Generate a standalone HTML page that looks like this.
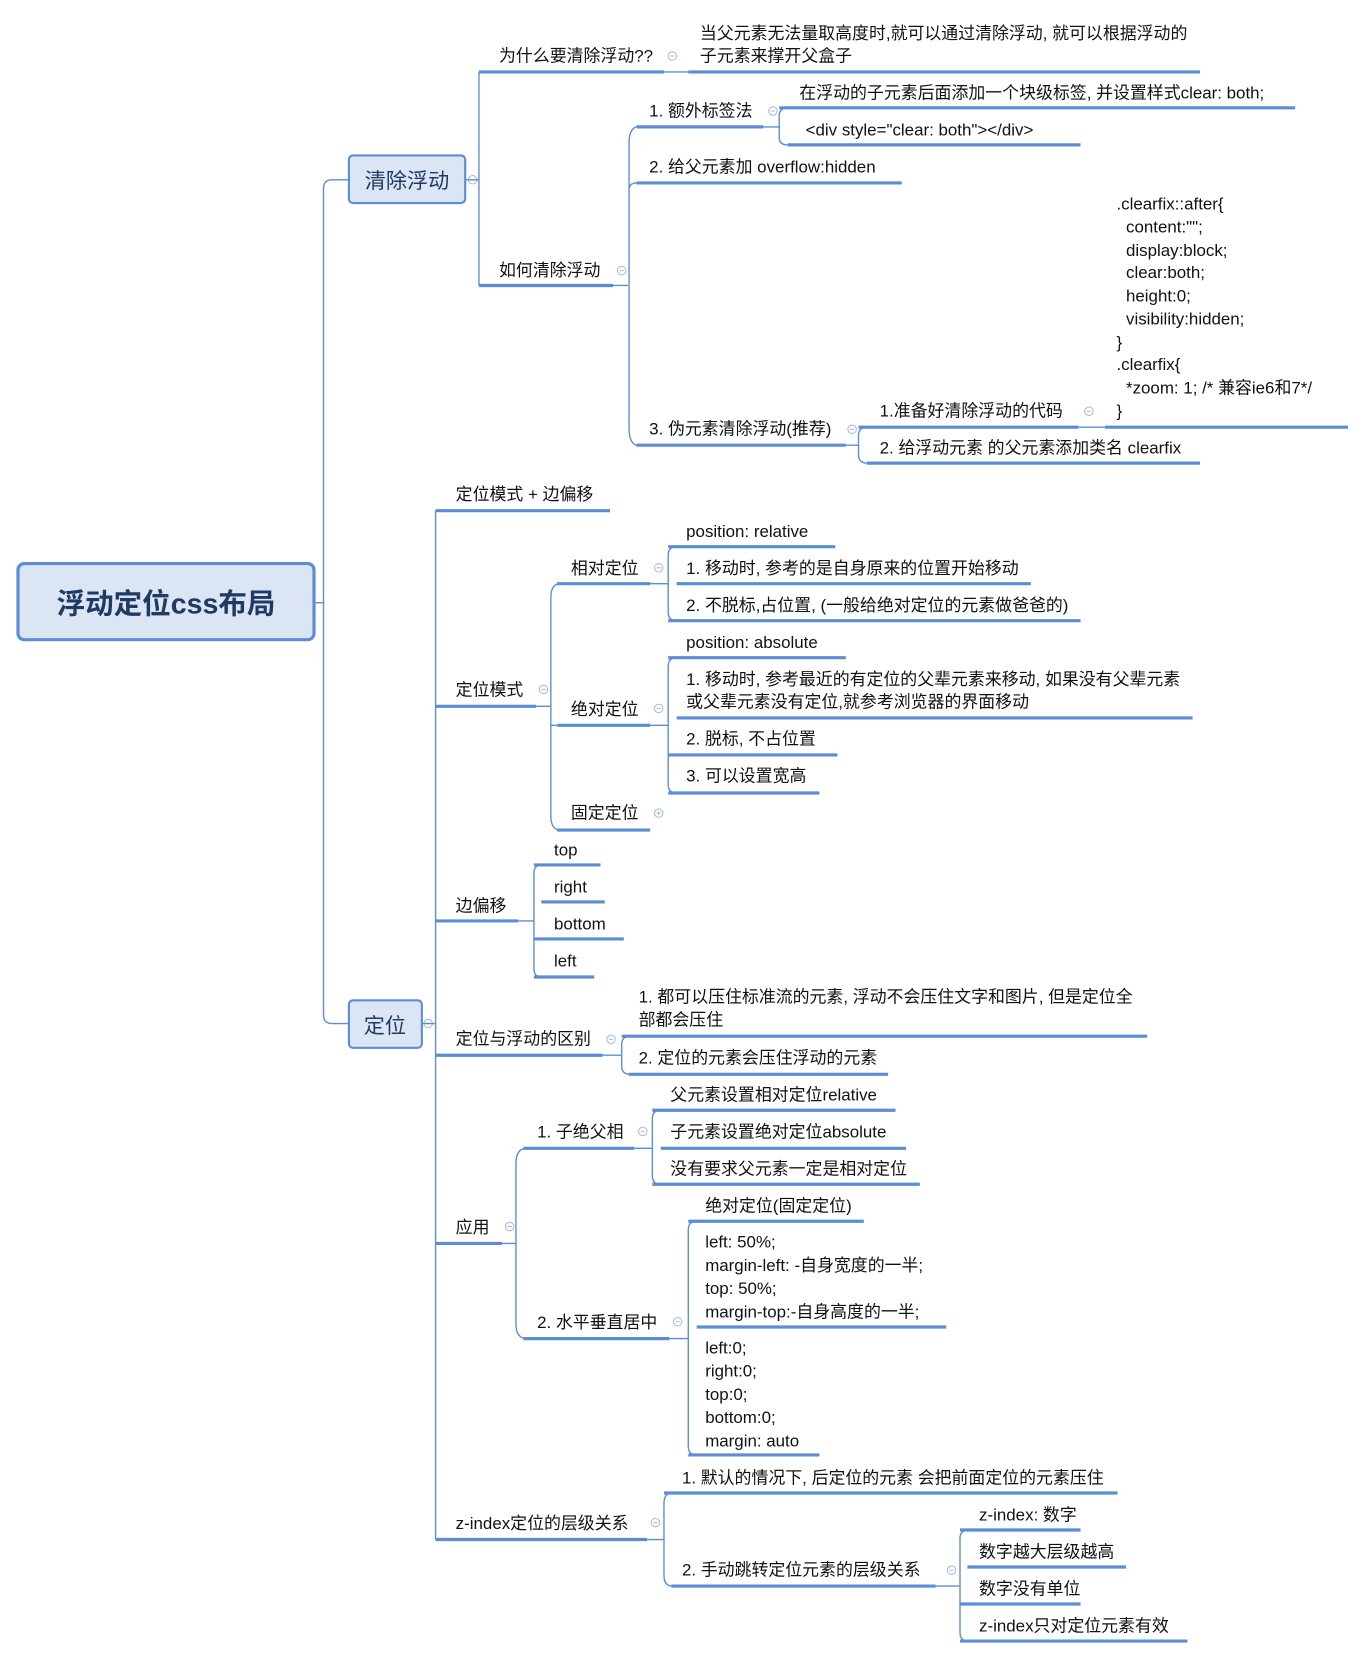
<!DOCTYPE html>
<html><head><meta charset="utf-8"><style>
html,body{margin:0;padding:0;background:#fff;width:1366px;height:1659px;overflow:hidden}
svg{display:block}
text{font-family:"Liberation Sans","Noto Sans CJK SC",sans-serif;font-size:16px;fill:#111}
.u{stroke:#5b8dd6;stroke-width:3;fill:none}
.c{stroke:#5b8dd6;stroke-width:1.3;fill:none}
.k{stroke:#a9b9e0;stroke-width:1;fill:#fff}
.km{stroke:#a9b9e0;stroke-width:1}
</style></head><body>
<svg width="1366" height="1659" viewBox="0 0 1292 1569" preserveAspectRatio="none" xmlns="http://www.w3.org/2000/svg">
<!-- root -->
<rect x="17" y="533" width="280" height="72" rx="6" fill="#dbe5f3" stroke="#5b8dd6" stroke-width="3"/>
<text x="157" y="580" text-anchor="middle" style="font-size:27px;font-weight:bold;fill:#1f3b64">浮动定位css布局</text>
<path class="c" d="M297 570 H306 M330 170 H314 Q306 170 306 178 V960 Q306 968 314 968 H330"/>
<!-- 清除浮动 box -->
<rect x="330" y="147" width="110" height="45" rx="4" fill="#dbe5f3" stroke="#5b8dd6" stroke-width="2"/>
<text x="385" y="178" text-anchor="middle" style="font-size:20px;fill:#1f3b64">清除浮动</text>
<circle class="k" cx="447" cy="170" r="4"/><line class="km" x1="445" y1="170" x2="449" y2="170"/>
<rect x="330" y="946" width="69" height="45" rx="4" fill="#dbe5f3" stroke="#5b8dd6" stroke-width="2"/>
<text x="364" y="977" text-anchor="middle" style="font-size:20px;fill:#1f3b64">定位</text>
<circle class="k" cx="405" cy="968" r="4"/><line class="km" x1="403" y1="968" x2="407" y2="968"/>

<!-- 清除浮动 children -->
<path class="c" d="M440 170 H453 M453 68 V270"/>
<text x="472" y="58">为什么要清除浮动??</text><path class="u" d="M453 68 H628"/>
<circle class="k" cx="636" cy="53" r="4"/><line class="km" x1="634" y1="53" x2="638" y2="53"/>
<path class="c" d="M628 68 H651"/>
<text x="662" y="37">当父元素无法量取高度时,就可以通过清除浮动, 就可以根据浮动的</text>
<text x="662" y="58">子元素来撑开父盒子</text><path class="u" d="M651 68 H1135"/>

<text x="472" y="261">如何清除浮动</text><path class="u" d="M453 270 H580"/>
<circle class="k" cx="588" cy="256" r="4"/><line class="km" x1="586" y1="256" x2="590" y2="256"/>
<path class="c" d="M580 270 H594 M602 120 Q595 122 595 135 V405 Q595 419 602 421 M595 180 Q595 173 602 173"/>
<text x="614" y="110">1. 额外标签法</text><path class="u" d="M602 120 H722"/>
<circle class="k" cx="731" cy="105" r="4"/><line class="km" x1="729" y1="105" x2="733" y2="105"/>
<path class="c" d="M722 120 H737 M745 102 Q737 102 737 110 V130 Q737 137 745 137"/>
<text x="756" y="93">在浮动的子元素后面添加一个块级标签, 并设置样式clear: both;</text><path class="u" d="M737 102 H1225"/>
<text x="762" y="128">&lt;div style="clear: both"&gt;&lt;/div&gt;</text><path class="u" d="M745 137 H1022"/>
<text x="614" y="163">2. 给父元素加 overflow:hidden</text><path class="u" d="M602 173 H853"/>
<text x="614" y="411">3. 伪元素清除浮动(推荐)</text><path class="u" d="M602 421 H800"/>
<circle class="k" cx="806" cy="406" r="4"/><line class="km" x1="804" y1="406" x2="808" y2="406"/>
<path class="c" d="M800 421 H812 M820 404 Q812 404 812 412 V430 Q812 438 820 438"/>
<text x="832" y="394">1.准备好清除浮动的代码</text><path class="u" d="M812 404 H1020"/>
<circle class="k" cx="1030" cy="389" r="4"/><line class="km" x1="1028" y1="389" x2="1032" y2="389"/>
<path class="c" d="M1020 404 H1045"/>
<text x="1056" y="198">.clearfix::after{</text>
<text x="1065" y="220">content:"";</text>
<text x="1065" y="242">display:block;</text>
<text x="1065" y="263">clear:both;</text>
<text x="1065" y="285">height:0;</text>
<text x="1065" y="307">visibility:hidden;</text>
<text x="1056" y="329">}</text>
<text x="1056" y="350">.clearfix{</text>
<text x="1065" y="372">*zoom: 1;  /* 兼容ie6和7*/</text>
<text x="1056" y="394">}</text>
<path class="u" d="M1045 404 H1275"/>
<text x="832" y="429">2. 给浮动元素 的父元素添加类名 clearfix</text><path class="u" d="M820 438 H1135"/>

<!-- 定位 children -->
<path class="c" d="M399 968 H412 M412 483 V1456"/>
<text x="431" y="473">定位模式 + 边偏移</text><path class="u" d="M412 483 H577"/>
<text x="431" y="658">定位模式</text><path class="u" d="M412 668 H507"/>
<circle class="k" cx="514" cy="652" r="4"/><line class="km" x1="512" y1="652" x2="516" y2="652"/>
<path class="c" d="M507 668 H521 M528 552 Q521 554 521 565 V772 Q521 783 528 785 M521 686 H527"/>
<text x="540" y="543">相对定位</text><path class="u" d="M527 552 H615"/>
<circle class="k" cx="623" cy="537" r="4"/><line class="km" x1="621" y1="537" x2="625" y2="537"/>
<path class="c" d="M615 552 H632 M640 517 Q632 517 632 525 V579 Q632 587 640 587"/>
<text x="649" y="508">position: relative</text><path class="u" d="M632 517 H790"/>
<text x="649" y="543">1. 移动时, 参考的是自身原来的位置开始移动</text><path class="u" d="M640 552 H975"/>
<text x="649" y="578">2. 不脱标,占位置, (一般给绝对定位的元素做爸爸的)</text><path class="u" d="M632 587 H1022"/>
<text x="540" y="676">绝对定位</text><path class="u" d="M527 686 H615"/>
<circle class="k" cx="623" cy="670" r="4"/><line class="km" x1="621" y1="670" x2="625" y2="670"/>
<path class="c" d="M615 686 H632 M640 622 Q632 622 632 630 V742 Q632 750 640 750"/>
<text x="649" y="613">position: absolute</text><path class="u" d="M632 622 H800"/>
<text x="649" y="648">1. 移动时, 参考最近的有定位的父辈元素来移动, 如果没有父辈元素</text>
<text x="649" y="669">或父辈元素没有定位,就参考浏览器的界面移动</text><path class="u" d="M640 679 H1128"/>
<text x="649" y="704">2. 脱标, 不占位置</text><path class="u" d="M632 714 H792"/>
<text x="649" y="739">3. 可以设置宽高</text><path class="u" d="M632 750 H775"/>
<text x="540" y="774">固定定位</text><path class="u" d="M527 785 H615"/>
<circle class="k" cx="623" cy="769" r="4"/><line class="km" x1="621" y1="769" x2="625" y2="769"/><line class="km" x1="623" y1="767" x2="623" y2="771"/>

<text x="431" y="862">边偏移</text><path class="u" d="M412 871 H490"/>
<path class="c" d="M490 871 H505 M512 818 Q505 818 505 826 V916 Q505 924 512 924"/>
<text x="524" y="809">top</text><path class="u" d="M505 818 H568"/>
<text x="524" y="844">right</text><path class="u" d="M512 853 H572"/>
<text x="524" y="879">bottom</text><path class="u" d="M505 888 H590"/>
<text x="524" y="914">left</text><path class="u" d="M505 924 H562"/>

<text x="431" y="988">定位与浮动的区别</text><path class="u" d="M412 998 H570"/>
<circle class="k" cx="578" cy="983" r="4"/><line class="km" x1="576" y1="983" x2="580" y2="983"/>
<path class="c" d="M570 998 H588 M596 980 Q588 980 588 988 V1008 Q588 1016 596 1016"/>
<text x="604" y="948">1. 都可以压住标准流的元素, 浮动不会压住文字和图片, 但是定位全</text>
<text x="604" y="970">部都会压住</text><path class="u" d="M588 980 H1085"/>
<text x="604" y="1006">2. 定位的元素会压住浮动的元素</text><path class="u" d="M595 1016 H840"/>

<text x="431" y="1166">应用</text><path class="u" d="M412 1176 H475"/>
<circle class="k" cx="482" cy="1160" r="4"/><line class="km" x1="480" y1="1160" x2="484" y2="1160"/>
<path class="c" d="M475 1176 H488 M496 1086 Q488 1088 488 1100 V1252 Q488 1264 496 1266"/>
<text x="508" y="1076">1. 子绝父相</text><path class="u" d="M495 1086 H600"/>
<circle class="k" cx="608" cy="1070" r="4"/><line class="km" x1="606" y1="1070" x2="610" y2="1070"/>
<path class="c" d="M600 1086 H617 M625 1050 Q617 1050 617 1058 V1112 Q617 1120 625 1120"/>
<text x="634" y="1041">父元素设置相对定位relative</text><path class="u" d="M617 1050 H847"/>
<text x="634" y="1076">子元素设置绝对定位absolute</text><path class="u" d="M625 1086 H857"/>
<text x="634" y="1111">没有要求父元素一定是相对定位</text><path class="u" d="M617 1120 H870"/>
<text x="508" y="1256">2. 水平垂直居中</text><path class="u" d="M495 1266 H633"/>
<circle class="k" cx="641" cy="1250" r="4"/><line class="km" x1="639" y1="1250" x2="643" y2="1250"/>
<path class="c" d="M633 1266 H651 M659 1155 Q651 1155 651 1163 V1368 Q651 1376 659 1376"/>
<text x="667" y="1146">绝对定位(固定定位)</text><path class="u" d="M651 1155 H817"/>
<text x="667" y="1180">left: 50%;</text>
<text x="667" y="1202">margin-left: -自身宽度的一半;</text>
<text x="667" y="1224">top: 50%;</text>
<text x="667" y="1246">margin-top:-自身高度的一半;</text><path class="u" d="M659 1255 H895"/>
<text x="667" y="1280">left:0;</text>
<text x="667" y="1302">right:0;</text>
<text x="667" y="1324">top:0;</text>
<text x="667" y="1346">bottom:0;</text>
<text x="667" y="1368">margin: auto</text><path class="u" d="M651 1376 H775"/>

<text x="431" y="1446">z-index定位的层级关系</text><path class="u" d="M412 1456 H612"/>
<circle class="k" cx="620" cy="1440" r="4"/><line class="km" x1="618" y1="1440" x2="622" y2="1440"/>
<path class="c" d="M612 1456 H628 M636 1412 Q628 1412 628 1422 V1490 Q628 1500 636 1500"/>
<text x="645" y="1403">1. 默认的情况下, 后定位的元素 会把前面定位的元素压住</text><path class="u" d="M628 1412 H1057"/>
<text x="645" y="1490">2. 手动跳转定位元素的层级关系</text><path class="u" d="M635 1500 H885"/>
<circle class="k" cx="900" cy="1485" r="4"/><line class="km" x1="898" y1="1485" x2="902" y2="1485"/>
<path class="c" d="M885 1500 H908 M916 1447 Q908 1447 908 1455 V1544 Q908 1552 916 1552"/>
<text x="926" y="1438">z-index: 数字</text><path class="u" d="M908 1447 H1022"/>
<text x="926" y="1473">数字越大层级越高</text><path class="u" d="M915 1482 H1065"/>
<text x="926" y="1508">数字没有单位</text><path class="u" d="M908 1517 H1022"/>
<text x="926" y="1543">z-index只对定位元素有效</text><path class="u" d="M908 1552 H1123"/>
</svg>
</body></html>
